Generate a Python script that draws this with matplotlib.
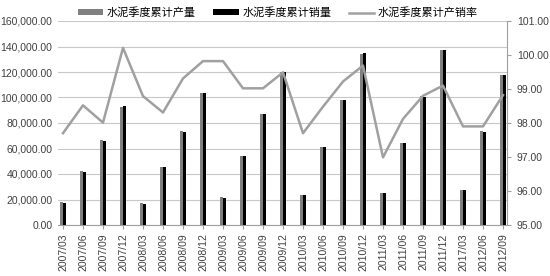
import matplotlib
matplotlib.use('Agg')
import matplotlib.pyplot as plt
import numpy as np
from matplotlib.ticker import FuncFormatter

plt.rcParams['font.family'] = ['Liberation Sans', 'Noto Sans CJK SC', 'DejaVu Sans']

quarters = ['2007/03', '2007/06', '2007/09', '2007/12', '2008/03', '2008/06', '2008/09', '2008/12',
            '2009/03', '2009/06', '2009/09', '2009/12', '2010/03', '2010/06', '2010/09', '2010/12',
            '2011/03', '2011/06', '2011/09', '2011/12', '2017/03', '2012/06', '2012/09']
# production (gray) and sales (black), cumulative per quarter
production = [18000, 42200, 66300, 92900, 17000, 45600, 73600, 103800,
              21600, 54300, 87200, 120300, 23800, 61500, 98300, 134400,
              25200, 64600, 100800, 137400, 27600, 73600, 117800]
sales = [17500, 41600, 65700, 93100, 16700, 45200, 73200, 103600,
         21400, 53900, 86800, 119800, 23500, 61200, 98000, 134600,
         24800, 64000, 100600, 137300, 27100, 73200, 117600]
# production/sales ratio (right axis)
ratio = [97.70, 98.52, 98.01, 100.21, 98.79, 98.31, 99.31, 99.82,
         99.82, 99.02, 99.02, 99.49, 97.70, 98.48, 99.22, 99.69,
         96.99, 98.12, 98.80, 99.10, 97.90, 97.90, 98.82]

fig = plt.figure(figsize=(5.5, 2.76), dpi=100)
ax = fig.add_axes([58/550, 1-225/276, (507-58)/550, (225-21)/276])
ax2 = ax.twinx()

x = np.arange(len(quarters))
w = 0.13
b1 = ax.bar(x - w/2, production, width=w, color='#808080', label='水泥季度累计产量', zorder=3)
b2 = ax.bar(x + w/2, sales, width=w, color='#000000', label='水泥季度累计销量', zorder=3)
l1, = ax2.plot(x, ratio, color='#a0a0a0', lw=1.8, label='水泥季度累计产销率')

ax.set_ylim(0, 160000)
ax.set_yticks(np.arange(0, 160001, 20000))
ax.yaxis.set_major_formatter(FuncFormatter(lambda v, p: '{:,.2f}'.format(v)))
ax.grid(axis='y', color='#c8c8c8', lw=0.8, zorder=0)
ax.set_xlim(-0.25, len(quarters) - 1 + 0.2)
ax.set_xticks(x)
ax.set_xticklabels(quarters, rotation=90, fontsize=7.5, color='#404040')
ax.tick_params(axis='y', length=0, labelsize=7.5, labelcolor='#404040', pad=4)
ax.tick_params(axis='x', length=3, color='#a0a0a0', pad=3)
for s in ['left', 'top', 'right']:
    ax.spines[s].set_visible(False)
ax.spines['bottom'].set_color('#a0a0a0')

ax2.set_ylim(95, 101)
ax2.set_yticks(np.arange(95, 101.1, 1))
ax2.yaxis.set_major_formatter(FuncFormatter(lambda v, p: '{:.2f}'.format(v)))
ax2.tick_params(axis='y', length=3, color='#a0a0a0', labelsize=7.5, labelcolor='#404040', pad=4)
for s in ['left', 'top', 'bottom']:
    ax2.spines[s].set_visible(False)
ax2.spines['right'].set_color('#a0a0a0')

fig.legend(handles=[b1, b2, l1], loc='upper center', bbox_to_anchor=(0.505, 1.01), ncol=3,
           frameon=False, prop={'family': ['Noto Sans CJK SC'], 'size': 8},
           handlelength=2.3, handleheight=0.45, columnspacing=1.6, handletextpad=0.3)

fig.savefig('out.png', dpi=100)
